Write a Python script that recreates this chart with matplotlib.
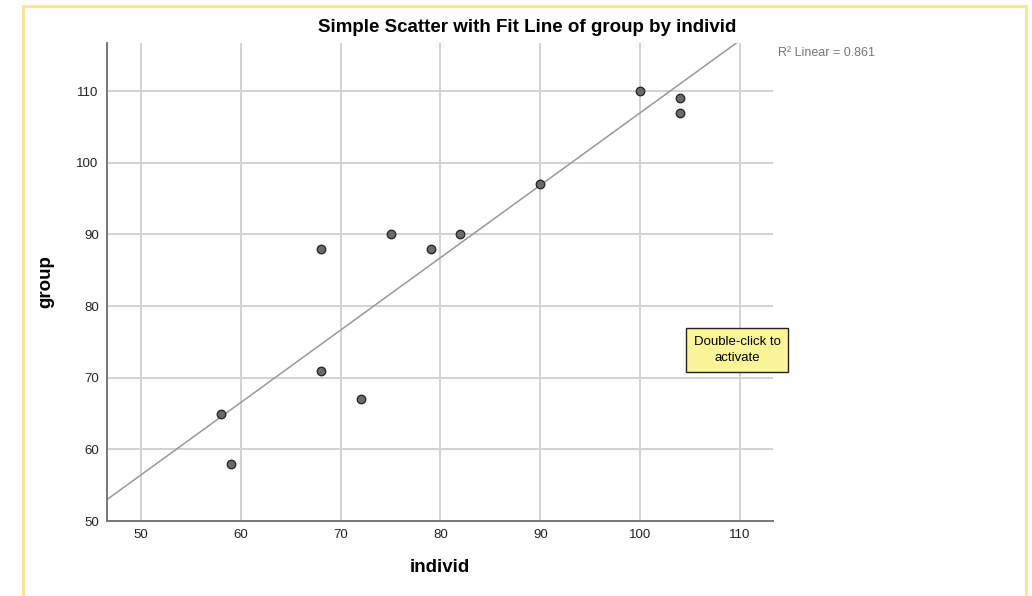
import matplotlib

matplotlib.use("Agg")
import matplotlib.pyplot as plt
import numpy as np

plt.rcParams["font.family"] = ["Liberation Sans", "DejaVu Sans"]

individ = [58, 59, 68, 68, 72, 75, 79, 82, 90, 100, 104, 104]
group = [65, 58, 88, 71, 67, 90, 88, 90, 97, 110, 109, 107]
x_ticks = [50, 60, 70, 80, 90, 100, 110]
y_ticks = [50, 60, 70, 80, 90, 100, 110]

W, H = 1032, 596
fig = plt.figure(figsize=(W / 100, H / 100), dpi=100, facecolor="white")

# yellow frame round the output item
fig.add_artist(plt.Rectangle((23 / W, 1 - 597 / H), 1003 / W, 591 / H, transform=fig.transFigure,
                             fill=False, edgecolor="#fde58a", lw=2))

ax = fig.add_axes([107 / W, 1 - 521 / H, (773 - 107) / W, (521 - 43) / H])
ax.set_xlim(46.6, 113.3)
ax.set_ylim(50, 116.7)
ax.set_xticks(x_ticks)
ax.set_yticks(y_ticks)
ax.grid(True, color="#d2d2d2", lw=1.4)
ax.set_axisbelow(True)
ax.tick_params(length=0, labelsize=9.5, pad=6, colors="#222222")
for s in ("top", "right"):
    ax.spines[s].set_visible(False)
for s in ("left", "bottom"):
    ax.spines[s].set_color("#777777")
    ax.spines[s].set_linewidth(1.4)

x = np.array(individ, float)
y = np.array(group, float)
slope, icept = np.polyfit(x, y, 1)
r2 = np.corrcoef(x, y)[0, 1] ** 2
xx = np.array([40, 130])
ax.plot(xx, slope * xx + icept, color="#999999", lw=1.1, zorder=2)
ax.scatter(x, y, s=38, color="#6a6a6a", edgecolor="#222222", linewidth=0.9, zorder=3)

ax.set_xlabel("individ", fontsize=13.5, fontweight="bold", labelpad=13)
ax.set_ylabel("group", fontsize=13.5, fontweight="bold", labelpad=16)
fig.text(527 / W, 1 - 28 / H, "Simple Scatter with Fit Line of group by individ",
         ha="center", va="center", fontsize=13.5, fontweight="bold")
fig.text(778 / W, 1 - 53 / H, f"R\u00b2 Linear = {r2:.3f}", ha="left", va="center",
         fontsize=9, color="#777777")

fig.text(737 / W, 1 - 350 / H, "Double-click to\nactivate", ha="center", va="center",
         fontsize=9.5, linespacing=1.55,
         bbox=dict(boxstyle="square,pad=0.6", facecolor="#fbf59a", edgecolor="#222222", lw=1))

fig.savefig("out.png", dpi=100, facecolor="white")
